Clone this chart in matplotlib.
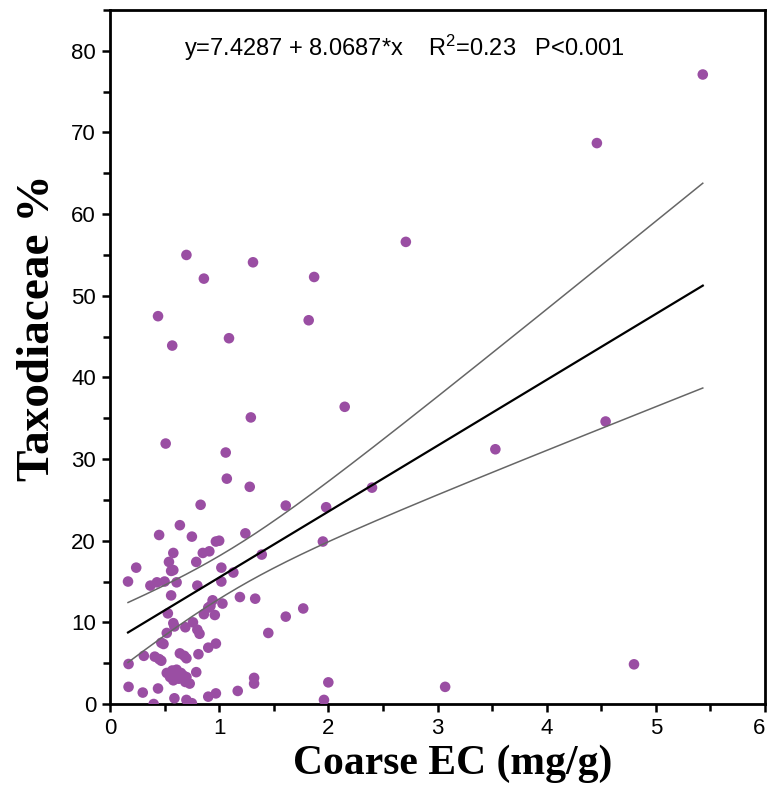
import numpy as np
import matplotlib
matplotlib.use("Agg")
import matplotlib.pyplot as plt
from matplotlib.ticker import MultipleLocator

plt.rcParams["mathtext.fontset"] = "custom"
plt.rcParams["mathtext.rm"] = "Liberation Sans"
plt.rcParams["mathtext.it"] = "Liberation Sans:italic"

# ---- data ----
coarse_ec = [
    5.43, 4.46, 2.71, 0.70, 1.31, 1.87, 0.86, 0.44, 1.82, 1.09, 0.57, 2.15, 1.29, 4.54, 3.53,
    0.51, 1.06, 1.07, 1.28, 2.40, 0.83, 1.61, 1.98, 0.64, 1.24, 0.45, 0.75, 0.97, 1.00, 1.95,
    0.85, 0.91, 0.58, 1.39, 0.54, 0.79, 0.24, 1.02, 0.56, 0.58, 1.13, 0.165, 1.02, 0.37, 0.43,
    0.50, 0.61, 0.80, 0.56, 1.19, 1.33, 0.94, 1.03, 0.90, 0.92, 1.77, 1.61, 0.53, 0.86, 0.96,
    0.58, 0.59, 0.76, 0.69, 0.80, 0.82, 0.52, 1.45, 0.47, 0.49, 0.90, 0.97, 0.31, 0.41, 0.45,
    0.47, 0.64, 0.68, 0.70, 0.81, 0.17, 4.80,
    0.52, 0.57, 0.61, 0.65, 0.70, 0.69, 0.73, 0.58, 0.63, 0.55, 0.60, 0.67,
    0.79, 0.17, 0.30, 0.44, 0.59, 0.70, 0.75, 0.40, 0.90, 0.97, 1.17, 1.32, 1.32, 2.00, 1.96, 3.07,
]
taxodiaceae = [
    77.1, 68.7, 56.6, 55.0, 54.1, 52.3, 52.1, 47.5, 47.0, 44.8, 43.9, 36.4, 35.1, 34.6, 31.2,
    31.9, 30.8, 27.6, 26.6, 26.5, 24.4, 24.3, 24.1, 21.9, 20.9, 20.7, 20.5, 19.9, 20.0, 19.9,
    18.5, 18.7, 18.5, 18.3, 17.4, 17.4, 16.7, 16.7, 16.3, 16.4, 16.1, 15.0, 15.0, 14.5, 14.9,
    15.0, 14.9, 14.5, 13.3, 13.1, 12.9, 12.7, 12.3, 11.8, 12.0, 11.7, 10.7, 11.1, 11.0, 10.9,
    9.9, 9.5, 10.0, 9.4, 9.1, 8.6, 8.7, 8.7, 7.5, 7.35, 6.9, 7.4, 5.9, 5.8, 5.5,
    5.3, 6.2, 5.9, 5.6, 6.1, 4.9, 4.86,
    3.8, 4.1, 4.2, 3.8, 3.3, 2.7, 2.5, 2.9, 3.1, 3.3, 3.6, 3.5,
    3.9, 2.1, 1.4, 1.9, 0.7, 0.5, 0.1, 0.0, 0.9, 1.3, 1.6, 3.2, 2.5, 2.65, 0.5, 2.1,
]
intercept = 7.4287
slope = 8.0687
r_squared = "0.23"
p_text = "P<0.001"
x_ticks = [0, 1, 2, 3, 4, 5, 6]
y_ticks = [0, 10, 20, 30, 40, 50, 60, 70, 80]

x = np.array(coarse_ec)
y = np.array(taxodiaceae)

# regression line and 95% confidence band of the mean
xf = np.linspace(x.min(), x.max(), 200)
yf = intercept + slope * xf
n = len(x)
res = y - (intercept + slope * x)
s = np.sqrt(np.sum(res ** 2) / (n - 2))
xbar = x.mean()
sxx = np.sum((x - xbar) ** 2)
half = 1.98 * s * np.sqrt(1.0 / n + (xf - xbar) ** 2 / sxx)

fig = plt.figure(figsize=(7.7, 7.9), dpi=100)
ax = fig.add_axes([110 / 770, 86 / 790, 655 / 770, 694 / 790])

ax.scatter(x, y, s=58, color="#9A4EA3", edgecolors="none", zorder=3)
ax.plot(xf, yf, color="black", lw=1.6, zorder=4)
ax.plot(xf, yf + half, color="#666666", lw=1.1, zorder=4)
ax.plot(xf, yf - half, color="#666666", lw=1.1, zorder=4)

ax.set_xlim(0, 6)
ax.set_ylim(0, 85)
ax.set_xticks(x_ticks)
ax.set_yticks(y_ticks)
ax.xaxis.set_minor_locator(MultipleLocator(0.5))
ax.yaxis.set_minor_locator(MultipleLocator(5))

for sp in ax.spines.values():
    sp.set_linewidth(2.0)
    sp.set_color("black")

ax.tick_params(axis="both", which="major", direction="out", length=6, width=1.8, pad=4)
ax.tick_params(axis="both", which="minor", direction="out", length=5, width=1.8)
ax.tick_params(top=False, right=False, which="both")

for lab in ax.get_yticklabels():
    lab.set_fontfamily("Liberation Sans")
    lab.set_fontsize(16)
xlabs = ax.get_xticklabels()
for lab in xlabs:
    lab.set_fontfamily("Liberation Sans")
    lab.set_fontsize(16)
xlabs[-1].set_horizontalalignment("right")
xlabs[-1].set_x(6.03)

fig.text(453 / 770, 1 - 764 / 790, "Coarse EC (mg/g)", family="Liberation Serif",
         fontweight="bold", fontsize=30, ha="center", va="center")
fig.text(38 / 770, 1 - 328 / 790, "Taxodiaceae %", family="Liberation Serif",
         fontweight="bold", fontsize=34, ha="center", va="center", rotation=90)

eq = "y=%.4f + %.4f*x    R$^\\mathrm{2}$=%s   %s" % (intercept, slope, r_squared, p_text)
ax.text(0.449, 0.946, eq, transform=ax.transAxes, ha="center", va="center",
        family="Liberation Sans", fontsize=17)

fig.savefig("out.png", dpi=100)
